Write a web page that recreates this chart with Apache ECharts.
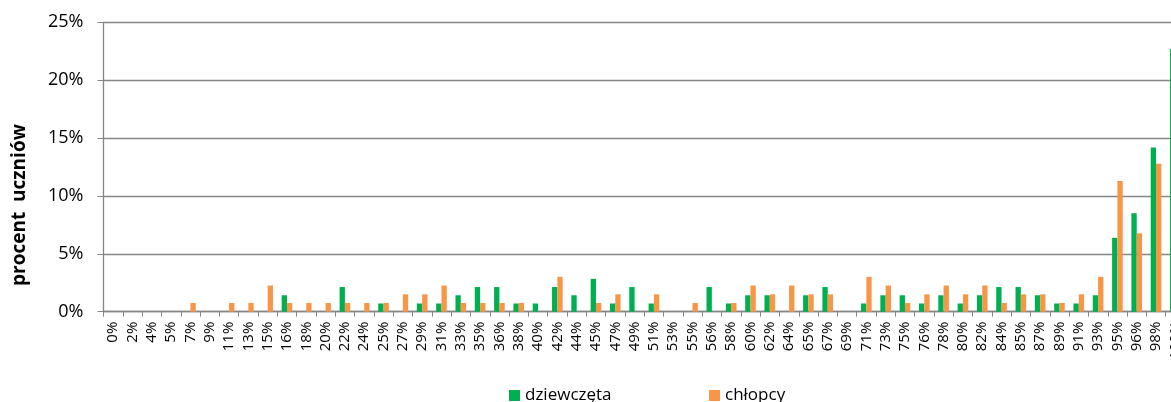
<!DOCTYPE html>
<html lang="pl">

<head>
    <meta charset="UTF-8">
    <title>procent uczniów</title>
    <script src="https://cdn.jsdelivr.net/npm/echarts@6/dist/echarts.min.js"></script>
    <style>
        body { margin: 0; background: #fff; }
    </style>
</head>

<body>
    <div id="main" style="width: 1171px;height:402px;"></div>
    <script type="text/javascript">
        // wynik testu (kategorie osi X)
        const categories = ['0%', '2%', '4%', '5%', '7%', '9%', '11%', '13%', '15%', '16%',
            '18%', '20%', '22%', '24%', '25%', '27%', '29%', '31%', '33%', '35%',
            '36%', '38%', '40%', '42%', '44%', '45%', '47%', '49%', '51%', '53%',
            '55%', '56%', '58%', '60%', '62%', '64%', '65%', '67%', '69%', '71%',
            '73%', '75%', '76%', '78%', '80%', '82%', '84%', '85%', '87%', '89%',
            '91%', '93%', '95%', '96%', '98%', '100%'];

        // procent uczniów - dziewczęta
        const girls = [0, 0, 0, 0, 0, 0, 0, 0, 0, 1.42,
            0, 0, 2.13, 0, 0.71, 0, 0.71, 0.71, 1.42, 2.13,
            2.13, 0.71, 0.71, 2.13, 1.42, 2.84, 0.71, 2.13, 0.71, 0,
            0, 2.13, 0.71, 1.42, 1.42, 0, 1.42, 2.13, 0, 0.71,
            1.42, 1.42, 0.71, 1.42, 0.71, 1.42, 2.13, 2.13, 1.42, 0.71,
            0.71, 1.42, 6.38, 8.51, 14.18, 22.7];

        // procent uczniów - chłopcy
        const boys = [0, 0, 0, 0, 0.75, 0, 0.75, 0.75, 2.26, 0.75,
            0.75, 0.75, 0.75, 0.75, 0.75, 1.5, 1.5, 2.26, 0.75, 0.75,
            0.75, 0.75, 0, 3.01, 0, 0.75, 1.5, 0, 1.5, 0,
            0.75, 0, 0.75, 2.26, 1.5, 2.26, 1.5, 1.5, 0, 3.01,
            2.26, 0.75, 1.5, 2.26, 1.5, 2.26, 0.75, 1.5, 1.5, 0.75,
            1.5, 3.01, 11.28, 6.77, 12.78, 20.3];

        const yTicks = [0, 5, 10, 15, 20, 25];

        const font = '"Open Sans", sans-serif';
        const axisGray = '#868686';

        let myChart = echarts.init(document.getElementById('main'));
        let options = {
            animation: false,
            textStyle: { fontFamily: font },
            // wykres w oryginale jest ucięty z prawej strony
            grid: {
                left: 103.5, top: 22.3, width: 1081.5, height: 289.4,
                containLabel: false, outerBoundsMode: 'none'
            },
            legend: [
                {
                    data: ['dziewczęta'], left: 504, top: 382,
                    icon: 'rect', itemWidth: 11, itemHeight: 11, itemGap: 5,
                    textStyle: { fontSize: 17, color: '#000', fontFamily: font }
                },
                {
                    data: ['chłopcy'], left: 704, top: 382,
                    icon: 'rect', itemWidth: 11, itemHeight: 11, itemGap: 5,
                    textStyle: { fontSize: 17, color: '#000', fontFamily: font }
                }
            ],
            graphic: [{
                type: 'text',
                x: 20, y: 205,
                rotation: Math.PI / 2,
                style: {
                    text: 'procent  uczniów',
                    fontSize: 19,
                    fontWeight: 'bold',
                    fontFamily: font,
                    fill: '#000',
                    align: 'center',
                    verticalAlign: 'middle'
                }
            }],
            xAxis: {
                type: 'category',
                data: categories,
                axisLine: { lineStyle: { color: axisGray, width: 1.3 } },
                axisTick: { show: true, length: 5, lineStyle: { color: axisGray } },
                axisLabel: {
                    rotate: 90, interval: 0, margin: 10,
                    fontSize: 15, color: '#000', fontFamily: font
                }
            },
            yAxis: {
                type: 'value',
                min: yTicks[0], max: yTicks[yTicks.length - 1], interval: 5,
                axisLine: { show: true, lineStyle: { color: axisGray, width: 1.3 } },
                axisTick: { show: true, length: 6, lineStyle: { color: axisGray } },
                splitLine: { lineStyle: { color: axisGray, width: 1.3 } },
                axisLabel: {
                    formatter: '{value}%', margin: 20,
                    fontSize: 18, color: '#000', fontFamily: font
                }
            },
            series: [
                {
                    name: 'dziewczęta', type: 'bar', data: girls,
                    itemStyle: { color: '#00B050' },
                    barGap: '0%', barCategoryGap: '45%'
                },
                {
                    name: 'chłopcy', type: 'bar', data: boys,
                    itemStyle: { color: '#F79646' },
                    barGap: '0%', barCategoryGap: '45%'
                }
            ]
        };
        myChart.setOption(options);
    </script>
</body>

</html>
